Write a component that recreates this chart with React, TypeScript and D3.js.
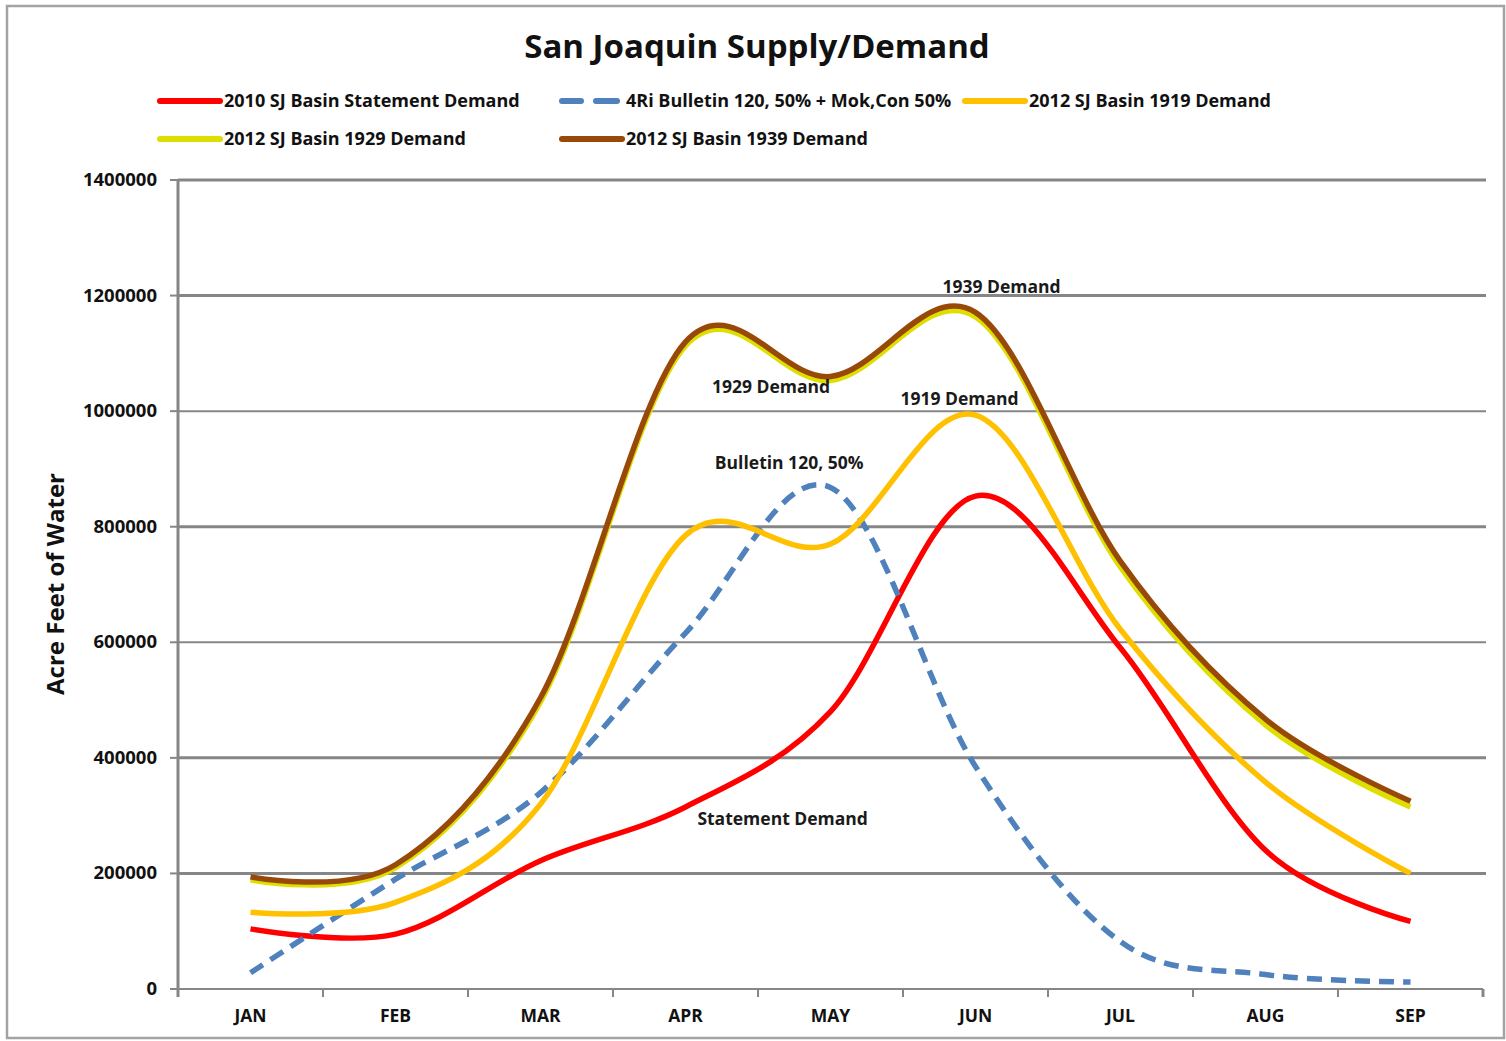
import React from 'react';
import * as d3 from 'd3';

// months along the x axis
const months = ['JAN', 'FEB', 'MAR', 'APR', 'MAY', 'JUN', 'JUL', 'AUG', 'SEP'];

// acre feet
const statement2010 = [104000, 95000, 222000, 315000, 480000, 853000, 590000, 240000, 117000];
const bulletin120 = [28000, 190000, 340000, 616000, 868000, 385000, 82000, 25000, 12000];
const demand1919 = [133000, 150000, 320000, 785000, 770000, 993000, 622000, 358000, 200000];
const demand1929 = [189000, 210000, 497000, 1113000, 1053000, 1163000, 730000, 457000, 315000];
const demand1939 = [194000, 215000, 504000, 1120000, 1060000, 1171000, 740000, 467000, 325000];

const yTicks = [0, 200000, 400000, 600000, 800000, 1000000, 1200000, 1400000];

const series = [
  { name: '2010 SJ Basin Statement Demand', values: statement2010, color: '#ff0000', dash: null },
  { name: '4Ri Bulletin 120, 50% + Mok,Con 50%', values: bulletin120, color: '#4f81bd', dash: '15,9' },
  { name: '2012 SJ Basin 1919 Demand', values: demand1919, color: '#ffc000', dash: null },
  { name: '2012 SJ Basin 1929 Demand', values: demand1929, color: '#dede00', dash: null },
  { name: '2012 SJ Basin 1939 Demand', values: demand1939, color: '#984807', dash: null },
];

// where the in-plot labels sit: month index offset and value
const notes = [
  { text: '1939 Demand', at: 5.18, v: 1205000 },
  { text: '1929 Demand', at: 3.59, v: 1032000 },
  { text: '1919 Demand', at: 4.89, v: 1010000 },
  { text: 'Bulletin 120, 50%', at: 3.715, v: 900000 },
  { text: 'Statement Demand', at: 3.67, v: 283000 },
];

const W = 1506;
const H = 1041;
const margin = { top: 180, right: 23, bottom: 52, left: 178 };
const font = '"Open Sans", Lato, sans-serif';

export default function App() {
  const x = d3.scaleBand().domain(months).range([margin.left, W - margin.right]).padding(0);
  const y = d3.scaleLinear().domain([0, 1400000]).range([H - margin.bottom, margin.top]);
  const cx = (i: number) => x(months[0])! + x.bandwidth() * (i + 0.5);

  const line = d3.line<number>()
    .x((d, i) => cx(i))
    .y(d => y(d))
    .curve(d3.curveCardinal.tension(0));

  const legendRows = [
    [{ s: series[0], x: 160 }, { s: series[1], x: 562 }, { s: series[2], x: 965 }],
    [{ s: series[3], x: 160 }, { s: series[4], x: 562 }],
  ];

  const bounds = months.map((m) => x(m)!).concat([x(months[months.length - 1])! + x.bandwidth()]);
  const plotRight = W - margin.right;

  return (
    <svg width={W} height={H} style={{ position: 'absolute', left: 0, top: 0, background: '#fff' }} fontFamily={font}>
      <rect x={7} y={6} width={1497} height={1032} fill="#fff" stroke="#a3a3a3" strokeWidth={2.5} />

      <text x={757} y={58} textAnchor="middle" fontSize={33} fontWeight="bold" fill="#111">
        San Joaquin Supply/Demand
      </text>

      {legendRows.map((row, r) => row.map(({ s, x: lx }) => {
        const ly = 101 + r * 38;
        return (
          <g key={s.name}>
            {s.dash ? (
              <>
                <line x1={lx} x2={lx + 19} y1={ly} y2={ly} stroke={s.color} strokeWidth={6} strokeLinecap="round" />
                <line x1={lx + 34} x2={lx + 55} y1={ly} y2={ly} stroke={s.color} strokeWidth={6} strokeLinecap="round" />
              </>
            ) : (
              <line x1={lx} x2={lx + 60} y1={ly} y2={ly} stroke={s.color} strokeWidth={6} strokeLinecap="round" />
            )}
            <text x={lx + 64} y={ly + 6} fontSize={18} fontWeight="bold" fill="#111">{s.name}</text>
          </g>
        );
      }))}

      {yTicks.map((t) => {
        const thin = t === 600000 || t === 1000000;
        return (
          <g key={t}>
            {t > 0 && (
              <line x1={margin.left} x2={plotRight + 3} y1={y(t)} y2={y(t)} stroke="#868686" strokeWidth={thin ? 2 : 3} />
            )}
            <line x1={margin.left - 8} x2={margin.left} y1={y(t)} y2={y(t)} stroke="#868686" strokeWidth={2} />
            <text x={157} y={y(t) + 6} textAnchor="end" fontSize={18.5} fontWeight="bold" fill="#111">{t}</text>
          </g>
        );
      })}

      <line x1={margin.left} x2={plotRight} y1={y(0)} y2={y(0)} stroke="#868686" strokeWidth={2} />
      {bounds.map((b, i) => (
        <line key={i} x1={b} x2={b} y1={y(0)} y2={y(0) + 8} stroke="#868686" strokeWidth={i === bounds.length - 1 ? 3 : 2} />
      ))}
      <line x1={margin.left} x2={margin.left} y1={y(1400000) - 1} y2={y(0) + 8} stroke="#868686" strokeWidth={3} />

      {months.map((m, i) => (
        <text key={m} x={cx(i)} y={1022} textAnchor="middle" fontSize={17.5} fontWeight="bold" fill="#111">{m}</text>
      ))}

      <text transform={`translate(64,584) rotate(-90)`} textAnchor="middle" fontSize={24} fontWeight="bold" fill="#111">
        Acre Feet of Water
      </text>

      {series.map((s) => (
        <path key={s.name} d={line(s.values) || ''} fill="none" stroke={s.color} strokeWidth={5.5}
          strokeDasharray={s.dash || undefined} strokeLinejoin="round" />
      ))}

      {notes.map((n) => (
        <text key={n.text} x={cx(n.at)} y={y(n.v)} textAnchor="middle" fontSize={17.5} fontWeight="bold" fill="#1a1a1a">
          {n.text}
        </text>
      ))}
    </svg>
  );
}
